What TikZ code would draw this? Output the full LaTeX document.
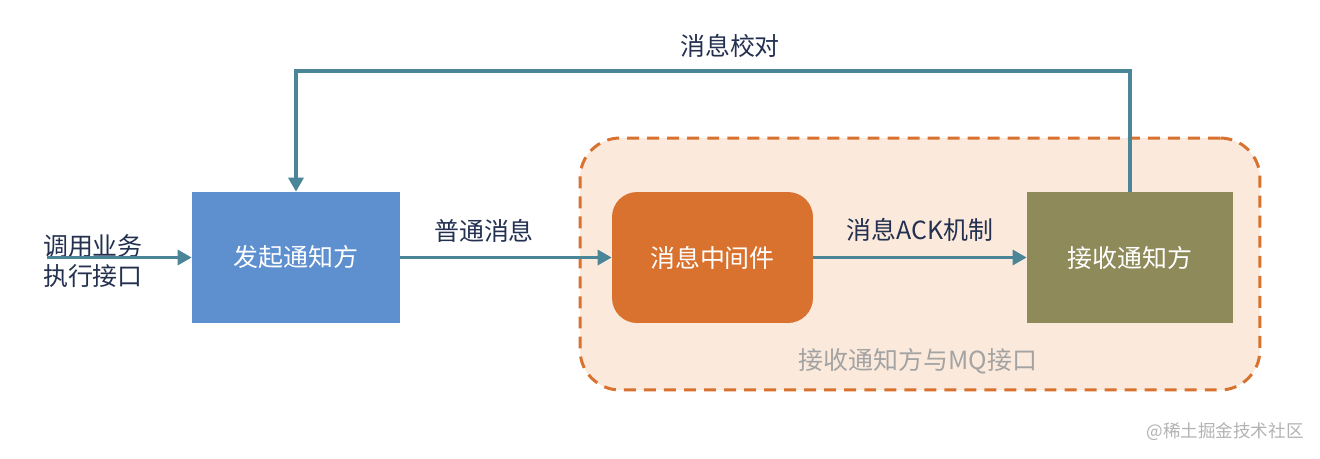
\documentclass[tikz,border=0pt]{standalone}
\usepackage{fontspec}
\setmainfont{Noto Sans CJK SC}
\usetikzlibrary{arrows.meta}

\definecolor{senderblue}{HTML}{5E8FCF}
\definecolor{mqorange}{HTML}{D8722E}
\definecolor{receiverolive}{HTML}{8F8A5A}
\definecolor{zonefill}{HTML}{FBEADC}
\definecolor{flowteal}{HTML}{4A8598}
\definecolor{labelnavy}{HTML}{23304F}
\definecolor{zonegray}{HTML}{A3A3A3}

\tikzset{
  blockbox/.style={minimum width=4.16cm, minimum height=2.62cm, inner sep=0pt,
    text=white, font=\fontsize{14.2}{17}\selectfont},
  flowline/.style={draw=flowteal, line width=1.8pt,
    -{Triangle[length=0.28cm,width=0.3cm]}},
  flowlabel/.style={text=labelnavy, font=\fontsize{14.2}{17}\selectfont, inner sep=0pt}
}

\begin{document}
\begin{tikzpicture}[x=0.02cm, y=-0.02cm]
    \useasboundingbox (0,0) rectangle (1320,458);

    % --- MQ zone ---
    \node[draw=mqorange, fill=zonefill, line width=1.7pt, dash pattern=on 6.8pt off 4.6pt,
          rounded corners=0.8cm, minimum width=13.6cm, minimum height=5.04cm] (mqzone) at (920,264) {};
    \node[text=zonegray, font=\fontsize{14.2}{17}\selectfont, inner sep=0pt] (zonetext) at (918,361) {接收通知方与MQ接口};

    % --- Blocks ---
    \node[blockbox, fill=senderblue] (sender) at (296,257.5) {发起通知方};
    \node[blockbox, fill=mqorange, rounded corners=0.5cm, minimum width=4.02cm] (broker) at (712.5,257.5) {消息中间件};
    \node[blockbox, fill=receiverolive, minimum width=4.12cm] (receiver) at (1130,257.5) {接收通知方};

    % --- Input ---
    \coordinate (callin) at (47,257.5);
    \node[flowlabel, align=left, font=\fontsize{14.2}{17.5}\selectfont] (calltext) at (93,261) {调用业务\\执行接口};
    \draw[flowline] (callin) -- (sender.west);

    % --- Flow ---
    \draw[flowline] (sender.east) -- (broker.west);
    \node[flowlabel] (plainmsg) at (484,231) {普通消息};
    \draw[flowline] (broker.east) -- (receiver.west);
    \node[flowlabel] (ackmsg) at (920,230) {消息ACK机制};

    % --- Check loop ---
    \coordinate (looptop) at (730,71);
    \draw[flowline] (receiver.north) |- (looptop) -| (sender.north);
    \node[flowlabel] (checkmsg) at (730,46) {消息校对};

    % --- Watermark ---
    \node[text=black!30, font=\fontsize{10}{12}\selectfont, inner sep=0pt] (mark) at (1225,432) {@稀土掘金技术社区};
\end{tikzpicture}
\end{document}
